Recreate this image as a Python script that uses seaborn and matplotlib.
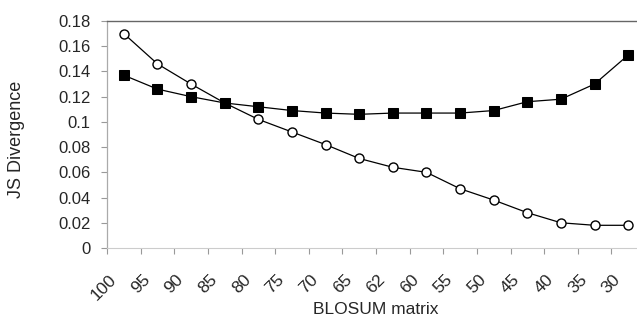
import matplotlib
matplotlib.use("Agg")
import matplotlib.pyplot as plt
import matplotlib.transforms as mtransforms
import seaborn as sns
import pandas as pd
import numpy as np

categories = ["100", "95", "90", "85", "80", "75", "70", "65", "62", "60",
              "55", "50", "45", "40", "35", "30"]
circle_values = [0.170, 0.146, 0.130, 0.115, 0.102, 0.092, 0.082, 0.071, 0.064,
                 0.060, 0.047, 0.038, 0.028, 0.020, 0.018, 0.018]
square_values = [0.137, 0.126, 0.120, 0.115, 0.112, 0.109, 0.107, 0.106, 0.107,
                 0.107, 0.107, 0.109, 0.116, 0.118, 0.130, 0.153]
y_ticks = [0, 0.02, 0.04, 0.06, 0.08, 0.1, 0.12, 0.14, 0.16, 0.18]
y_labels = ["0", "0.02", "0.04", "0.06", "0.08", "0.1", "0.12", "0.14", "0.16", "0.18"]

sns.set_style("white")
plt.rcParams["font.family"] = ["Liberation Sans", "DejaVu Sans"]

df = pd.DataFrame({
    "pos": np.arange(len(categories)),
    "circle": circle_values,
    "square": square_values,
})

W, H = 637, 324
fig = plt.figure(figsize=(W / 100, H / 100), dpi=100)
ax = fig.add_axes([107 / W, (H - 248) / H, (645 - 107) / W, (248 - 21) / H])

sns.lineplot(data=df, x="pos", y="circle", ax=ax, color="black", lw=0.9,
             marker="o", markersize=6.5, markerfacecolor="white",
             markeredgecolor="black", markeredgewidth=1.0)
sns.lineplot(data=df, x="pos", y="square", ax=ax, color="black", lw=0.9,
             marker="s", markersize=6.5, markerfacecolor="black",
             markeredgecolor="black")

ax.set_xlim(-0.5, len(categories) - 0.5)
ax.set_ylim(0, 0.18)
ax.set_yticks(y_ticks)
ax.set_yticklabels(y_labels, fontsize=12)
ax.set_xticks(np.arange(len(categories)))
ax.set_xticklabels(categories, fontsize=12.5, rotation=45, ha="right",
                   va="center", rotation_mode="anchor")
ax.set_xticks(np.arange(len(categories) + 1) - 0.5, minor=True)
ax.tick_params(axis="x", which="major", length=0, pad=21)
ax.tick_params(axis="x", which="minor", length=4, color="#999999", width=0.8,
               direction="out", bottom=True)
ax.tick_params(axis="y", length=4, color="#999999", width=0.8,
               direction="out", left=True, pad=8)

shift = mtransforms.ScaledTranslation(-10 / 100, 0, fig.dpi_scale_trans)
for lab in ax.get_xticklabels():
    lab.set_transform(lab.get_transform() + shift)

for side in ["left", "bottom", "top", "right"]:
    ax.spines[side].set_visible(True)
ax.spines["left"].set_color("#aaaaaa")
ax.spines["left"].set_linewidth(0.9)
ax.spines["bottom"].set_color("#cccccc")
ax.spines["bottom"].set_linewidth(0.8)
ax.spines["top"].set_color("#666666")
ax.spines["top"].set_linewidth(1.0)
ax.spines["right"].set_visible(False)

ax.set_xlabel("")
ax.set_ylabel("")
fig.text(17 / W, 1 - 139.5 / H, "JS Divergence", rotation=90, fontsize=13,
         ha="center", va="center")
fig.text(376 / W, 1 - 310 / H, "BLOSUM matrix", fontsize=12.5,
         ha="center", va="center")

fig.savefig("out.png", dpi=100)
